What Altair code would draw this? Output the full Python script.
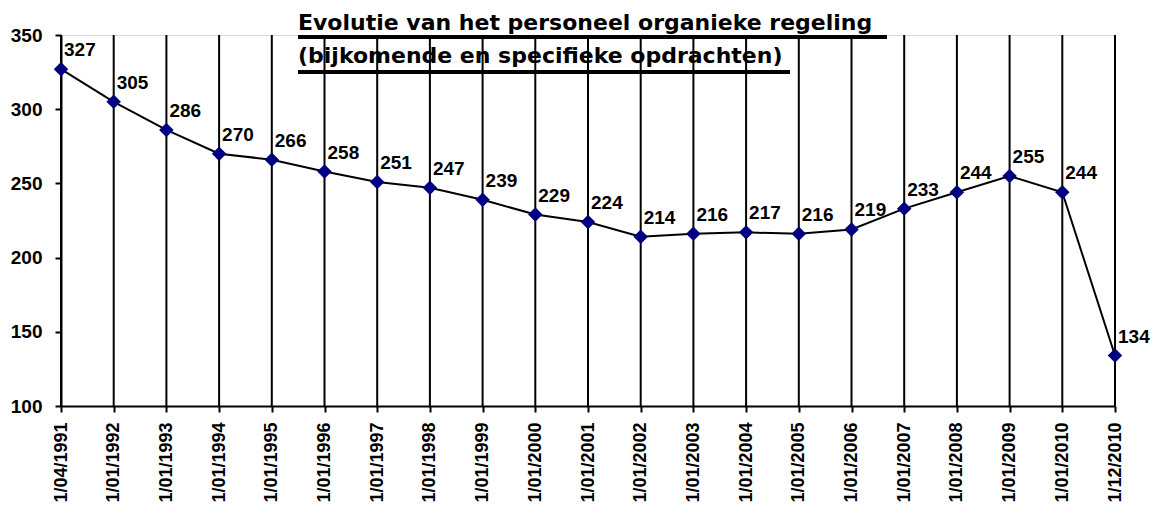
import altair as alt
import pandas as pd

dates = ["1/04/1991", "1/01/1992", "1/01/1993", "1/01/1994", "1/01/1995", "1/01/1996",
         "1/01/1997", "1/01/1998", "1/01/1999", "1/01/2000", "1/01/2001", "1/01/2002",
         "1/01/2003", "1/01/2004", "1/01/2005", "1/01/2006", "1/01/2007", "1/01/2008",
         "1/01/2009", "1/01/2010", "1/12/2010"]
values = [327, 305, 286, 270, 266, 258, 251, 247, 239, 229, 224, 214,
          216, 217, 216, 219, 233, 244, 255, 244, 134]
title_lines = ["Evolutie van het personeel organieke regeling",
               "(bijkomende en specifieke opdrachten)"]
y_ticks = [100, 150, 200, 250, 300, 350]

df = pd.DataFrame({"datum": dates, "aantal": values})

W, H = 1054, 371
xs = alt.Scale(type="point", padding=0, domain=dates)
ys = alt.Scale(domain=[100, 350], nice=False, zero=False)

base = alt.Chart(df)

title1 = alt.Chart(pd.DataFrame({"t": [title_lines[0]]})).mark_text(
    align="left", baseline="alphabetic", font="DejaVu Sans", fontWeight="bold",
    fontSize=22, color="black"
).encode(x=alt.value(237), y=alt.value(-5), text="t:N")
title2 = alt.Chart(pd.DataFrame({"t": [title_lines[1]]})).mark_text(
    align="left", baseline="alphabetic", font="DejaVu Sans", fontWeight="bold",
    fontSize=22, color="black"
).encode(x=alt.value(237), y=alt.value(28), text="t:N")
ul1 = base.mark_rule(color="black", strokeWidth=2.5).encode(
    x=alt.value(237), x2=alt.value(826), y=alt.value(2))
ul2 = base.mark_rule(color="black", strokeWidth=3).encode(
    x=alt.value(237), x2=alt.value(729), y=alt.value(37))

grid = base.mark_rule(color="black", strokeWidth=2).encode(
    x=alt.X("datum:N", scale=xs, sort=None,
            axis=alt.Axis(title=None, labelAngle=-90, labelFont="Liberation Sans",
                          labelFontWeight="bold", labelFontSize=18, labelColor="black",
                          tickColor="black", tickSize=6, tickWidth=2, labelPadding=10,
                          domainColor="black", domainWidth=2, grid=False)),
    y=alt.datum(100, scale=ys), y2=alt.datum(350)
)

line = base.mark_line(color="black", strokeWidth=2).encode(
    x=alt.X("datum:N", scale=xs, sort=None),
    y=alt.Y("aantal:Q", scale=ys,
            axis=alt.Axis(title=None, values=y_ticks, labelFont="Liberation Sans",
                          labelFontWeight="bold", labelFontSize=19, labelColor="black",
                          tickColor="black", tickSize=6, tickWidth=2, labelPadding=13,
                          domainColor="black", domainWidth=2, grid=False))
)
points = base.mark_point(shape="diamond", filled=True, color="#000080", size=210, opacity=1).encode(
    x=alt.X("datum:N", scale=xs, sort=None),
    y=alt.Y("aantal:Q", scale=ys)
)
labels = base.mark_text(align="left", baseline="alphabetic", dx=3, dy=-13,
                        font="Liberation Sans", fontWeight="bold", fontSize=19,
                        color="black").encode(
    x=alt.X("datum:N", scale=xs, sort=None),
    y=alt.Y("aantal:Q", scale=ys),
    text="aantal:Q"
)

chart = alt.layer(title1, title2, ul1, ul2, grid, line, points, labels).properties(
    width=W, height=H,
    autosize=alt.AutoSizeParams(type="none"),
    padding={"left": 53, "top": 27, "right": 35, "bottom": 100}
).configure_view(stroke=None).configure(background="white")

chart.save("out.html", embed_options={"renderer": "svg", "actions": False})
